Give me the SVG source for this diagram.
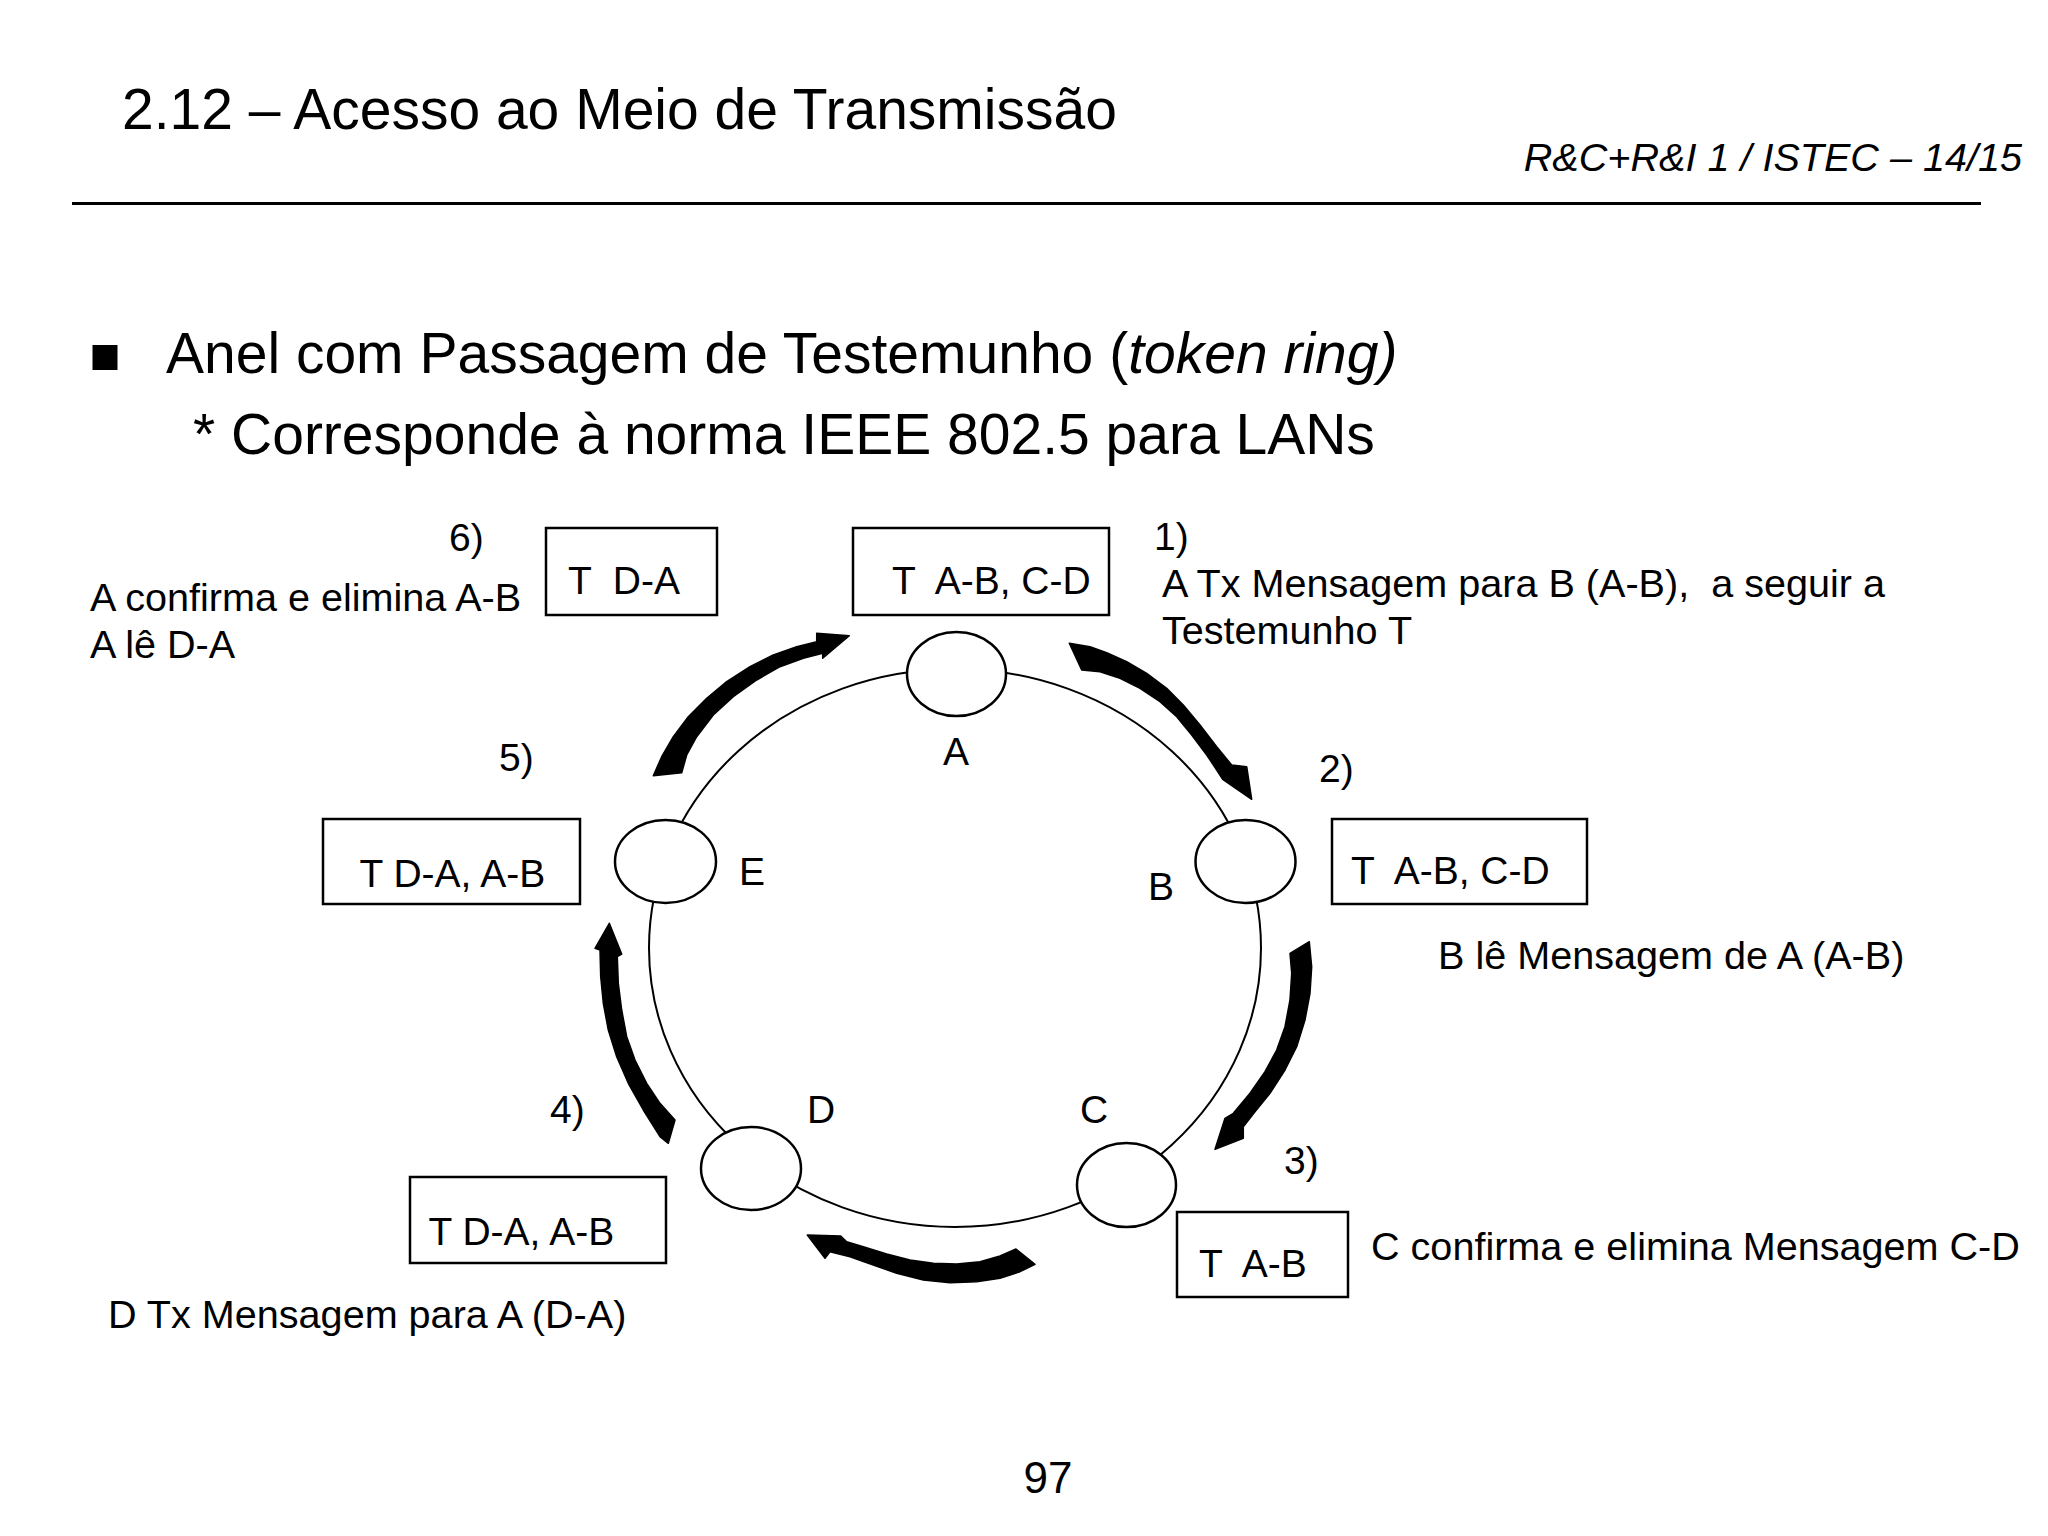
<svg xmlns="http://www.w3.org/2000/svg" width="2048" height="1536" viewBox="0 0 2048 1536">
<style>
text{font-family:"Liberation Sans",Arial,Helvetica,sans-serif;fill:#000;white-space:pre}
.t57{font-size:57px}
.t56{font-size:57px}
.t40{font-size:39.6px;font-style:italic}
.t39{font-size:39px}
.lbl{font-size:39.6px}
.box{fill:#fff;stroke:#000;stroke-width:2.5}
.node{fill:#fff;stroke:#000;stroke-width:2.5}
.ring{fill:none;stroke:#000;stroke-width:2}
.arr{fill:#000;stroke:#000;stroke-width:1.5;stroke-linejoin:round}
</style>
<rect width="2048" height="1536" fill="#fff"/>

<g id="header">
<text class="t57" x="122" y="129">2.12 – Acesso ao Meio de Transmissão</text>
<text class="t40" x="2022" y="171" text-anchor="end">R&amp;C+R&amp;I 1 / ISTEC – 14/15</text>
<line x1="72" y1="203.5" x2="1981" y2="203.5" stroke="#000" stroke-width="3"/>
</g>

<g id="bullets">
<rect x="92.5" y="345" width="25" height="25" fill="#000"/>
<text class="t56" x="166" y="373">Anel com Passagem de Testemunho (<tspan font-style="italic">token ring)</tspan></text>
<text class="t56" x="193" y="454">* Corresponde à norma IEEE 802.5 para LANs</text>
</g>

<g id="connectors">
<ellipse class="ring" cx="955" cy="948" rx="306" ry="279"/>
<polygon id="arrow1" class="arr" points="1069.3,643.3 1090,646.7 1106.7,652.7 1126.7,661.7 1146.7,673.3 1166.7,688.3 1183.3,705 1200,725 1216.7,746.7 1231.7,765 1246.7,766.7 1251.7,799.3 1222.7,779.3 1216.7,770 1206.7,755 1191.7,735 1176.7,716.7 1160,701.7 1140,688.3 1120,678.3 1100,671.7 1081.7,670"/>
<polygon id="arrow2" class="arr" points="1309.3,941.7 1311.7,966.7 1310,993.3 1305,1020 1296.7,1046.7 1285,1070 1270,1093.3 1255,1111.7 1243.3,1126.7 1243.3,1138.3 1215,1149.3 1225,1118.3 1233.3,1113.3 1250,1093.3 1265,1071.7 1276.7,1050 1285,1026.7 1290,1000 1291.7,973.3 1290,953.3"/>
<polygon id="arrow3" class="arr" points="1035,1264.3 1020,1271.7 1000,1278.3 976.7,1281.7 950,1282.7 923.3,1280 896.7,1273.3 873.3,1265 850,1256.7 830,1251.7 825,1258.3 807.3,1235 840.7,1236 846.7,1241.7 863.3,1246.7 886.7,1254 910,1260 933.3,1263.3 956.7,1264 980,1261.7 1000,1256 1016,1249"/>
<polygon id="arrow4" class="arr" points="609.3,923.3 595,948.3 600,950 600.7,976.7 603.3,1003.3 608.3,1030 616.7,1056.7 628.3,1083.3 643.3,1110 660,1136.7 668.3,1143.3 675,1120 660,1103.3 646.7,1083.3 635,1060 626.7,1036.7 621.7,1010 618.3,983.3 617.3,956.7 621.7,954"/>
<polygon id="arrow5" class="arr" points="653.3,775.7 661.7,756.7 673.3,736.7 688.3,716.7 706.7,698.3 726.7,681.7 750,666.7 773.3,655 796.7,646.7 816.7,641.7 816.7,633.3 849.3,635.7 822.7,658.3 822.7,653.3 803.3,658.3 780,666.7 756.7,680 733.3,696.7 713.3,715 696.7,736.7 686.7,755 681.7,772.7"/>
</g>

<g id="node-A">
<ellipse class="node" cx="956.5" cy="674" rx="49.5" ry="42"/>
<text class="t39" x="943" y="765">A</text>
</g>
<g id="node-B">
<ellipse class="node" cx="1245.5" cy="861.5" rx="50" ry="41.5"/>
<text class="t39" x="1148" y="900">B</text>
</g>
<g id="node-C">
<ellipse class="node" cx="1126.5" cy="1185" rx="49.5" ry="42"/>
<text class="t39" x="1080" y="1123">C</text>
</g>
<g id="node-D">
<ellipse class="node" cx="751" cy="1168.5" rx="50" ry="41.5"/>
<text class="t39" x="807" y="1123">D</text>
</g>
<g id="node-E">
<ellipse class="node" cx="665.5" cy="861.5" rx="50.5" ry="41.5"/>
<text class="t39" x="739" y="885">E</text>
</g>

<g id="step1">
<rect class="box" x="853" y="528" width="256" height="87"/>
<text class="t39" x="892" y="594">T  A-B, C-D</text>
<text class="t39" x="1154" y="550">1)</text>
<text class="lbl" x="1162" y="597">A Tx Mensagem para B (A-B),  a seguir a</text>
<text class="lbl" x="1162" y="644">Testemunho T</text>
</g>
<g id="step2">
<rect class="box" x="1332" y="819" width="255" height="85"/>
<text class="t39" x="1351" y="884">T  A-B, C-D</text>
<text class="t39" x="1319" y="782">2)</text>
<text class="lbl" x="1438" y="969">B lê Mensagem de A (A-B)</text>
</g>
<g id="step3">
<rect class="box" x="1177" y="1212" width="171" height="85"/>
<text class="t39" x="1199" y="1277">T  A-B</text>
<text class="t39" x="1284" y="1174">3)</text>
<text class="lbl" x="1371" y="1260">C confirma e elimina Mensagem C-D</text>
</g>
<g id="step4">
<rect class="box" x="410" y="1177" width="256" height="86"/>
<text class="t39" x="428.5" y="1245">T D-A, A-B</text>
<text class="t39" x="550" y="1123">4)</text>
<text class="lbl" x="108" y="1328">D Tx Mensagem para A (D-A)</text>
</g>
<g id="step5">
<rect class="box" x="323" y="819" width="257" height="85"/>
<text class="t39" x="359.5" y="887">T D-A, A-B</text>
<text class="t39" x="499" y="771">5)</text>
</g>
<g id="step6">
<rect class="box" x="546" y="528" width="171" height="87"/>
<text class="t39" x="568" y="594">T  D-A</text>
<text class="t39" x="449" y="551">6)</text>
<text class="lbl" x="90" y="611">A confirma e elimina A-B</text>
<text class="lbl" x="90" y="658">A lê D-A</text>
</g>

<g id="footer">
<text x="1048" y="1493" font-size="44" text-anchor="middle">97</text>
</g>
</svg>
